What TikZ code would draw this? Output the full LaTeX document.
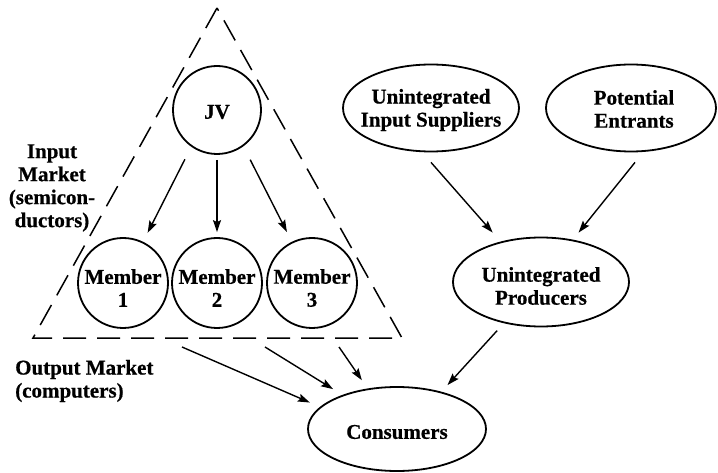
\documentclass[tikz,border=0pt]{standalone}
\usepackage{fontspec}
\setmainfont{Liberation Serif}[BoldFeatures={FakeBold=0.6}]
\usetikzlibrary{arrows.meta,shapes.geometric}
\begin{document}
\begin{tikzpicture}[x=1pt,y=-1pt,
  font=\fontsize{21}{23}\selectfont\bfseries,
  circ/.style={circle, draw, line width=1.8pt, minimum size=#1, inner sep=0pt},
  ell/.style 2 args={ellipse, draw, line width=1.8pt, minimum width=#1, minimum height=#2, inner sep=0pt},
  lbl/.style={align=center, inner sep=0pt},
  arr/.style={-{Stealth[length=12pt,width=8pt,inset=2pt]}, line width=1.4pt},
  tri/.style={dash pattern=on 23pt off 11pt, line width=1.5pt}
]
\useasboundingbox (0,0) rectangle (718,473);

% triangle (joint venture boundary)
\coordinate (apex) at (217,8);
\coordinate (bl) at (33,338);
\coordinate (br) at (402,338);
\draw[tri] (apex) -- (bl) -- (br) -- cycle;

% circles
\node[circ=88pt] (jv) at (217,110) {};
\node[lbl] (jvt) at ([yshift=-2pt]jv.center) {JV};
\node[circ=90pt] (m1) at (123,283) {};
\node[lbl] (m1t) at ([yshift=-5pt]m1.center) {Member\\1};
\node[circ=90pt] (m2) at (217,283) {};
\node[lbl] (m2t) at ([yshift=-5pt]m2.center) {Member\\2};
\node[circ=90pt] (m3) at (312,283) {};
\node[lbl] (m3t) at ([yshift=-5pt]m3.center) {Member\\3};

% ellipses
\node[ell={176pt}{87pt}] (uis) at (431,108) {};
\node[lbl] (uist) at ([yshift=-2pt]uis.center) {Unintegrated\\Input Suppliers};
\node[ell={170pt}{87pt}] (pe) at (631,108) {};
\node[lbl] (pet) at ([xshift=3pt,yshift=-1pt]pe.center) {Potential\\Entrants};
\node[ell={176pt}{89pt}] (up) at (541,282) {};
\node[lbl] (upt) at ([yshift=-4pt]up.center) {Unintegrated\\Producers};
\node[ell={178pt}{84pt}] (cons) at (397,429) {};
\node[lbl] (const) at ([yshift=-3pt]cons.center) {Consumers};

% side labels
\node[lbl] (inm) at (52,188) {Input\\Market\\(semicon-\\ductors)};
\node[lbl, anchor=west, align=left] (outm) at (15,381) {Output Market\\(computers)};

% JV to members
\draw[arr, shorten <=14pt, shorten >=10pt] (jv.-125) -- (m1.64);
\draw[arr, shorten <=5pt, shorten >=5pt] (jv) -- (m2);
\draw[arr, shorten <=15pt, shorten >=11pt] (jv.-54) -- (m3.116);

% suppliers / entrants to producers
\draw[arr, shorten >=12pt] ([yshift=-10pt]uis.south) -- (up.135);
\draw[arr, shorten >=9pt] ([xshift=4pt,yshift=-10pt]pe.south) -- (up.53);

% to consumers
\draw[arr, shorten <=10pt, shorten >=9pt] (up.-132) -- (cons.40);
\coordinate (o1) at (182,347);
\coordinate (o2) at (265,347);
\coordinate (o3) at (339,347);
\draw[arr, shorten >=11pt] (o1) -- (cons.164);
\draw[arr, shorten >=11pt] (o2) -- (cons.148.6);
\draw[arr, shorten >=10pt] (o3) -- (cons.126);
\end{tikzpicture}
\end{document}
